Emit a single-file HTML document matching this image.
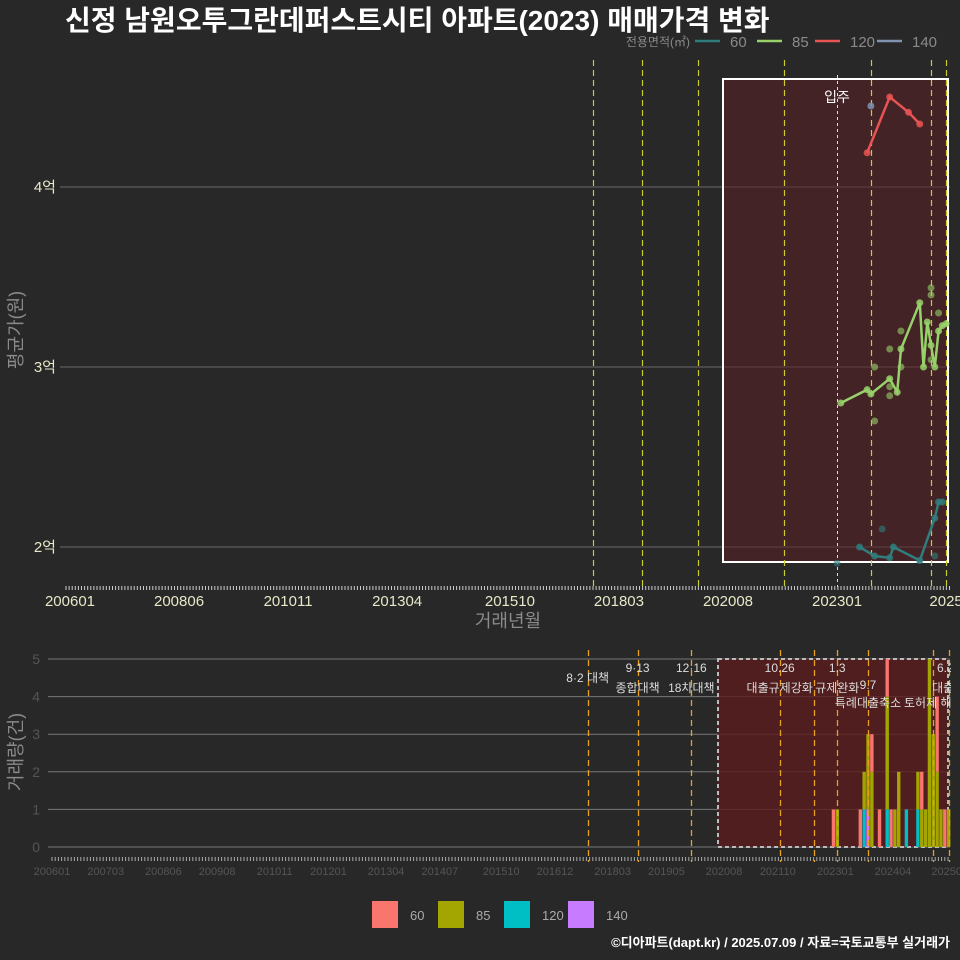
<!DOCTYPE html>
<html><head><meta charset="utf-8"><style>
body{margin:0;background:#282828;}
svg{display:block;font-family:"Liberation Sans","Noto Sans CJK KR",sans-serif;}
</style></head><body>
<svg id="c" width="960" height="960" viewBox="0 0 960 960" xmlns="http://www.w3.org/2000/svg">
<rect width="960" height="960" fill="#282828"/>
<text x="65" y="30" fill="#ffffff" font-size="28" font-weight="bold">신정 남원오투그란데퍼스트시티 아파트(2023) 매매가격 변화</text>
<g id="topPanel"></g>
<g id="botPanel"></g>
<text x="950" y="947" text-anchor="end" fill="#ffffff" font-size="13" font-weight="bold">©디아파트(dapt.kr) / 2025.07.09 / 자료=국토교통부 실거래가</text>
</svg>
<script>
// ---- data ----
const priceTicks=[2,3,4];
const priceTickLabels=["2억","3억","4억"];
const xTickMonthsTop=[0,29,58,87,117,146,175,204,233];
const xTickLabelsTop=["200601","200806","201011","201304","201510","201803","202008","202301","2025"];
const xTickMonthsBot=[0,14,29,43,58,72,87,101,117,131,146,160,175,189,204,219,233];
const xTickLabelsBot=["200601","200703","200806","200908","201011","201201","201304","201407","201510","201612","201803","201905","202008","202110","202301","202404","20250"];
const areaLabels=["60","85","120","140"];
const lineColors=["#2f7d7d","#97d16a","#e85454","#7f93b0"];
const barColors=["#f8766d","#a3a500","#00bfc4","#c77cff"];
const m60=[210,214,218,219,226,230,231,232];
const v60=[2.0,1.95,1.94,2.0,1.925,2.16,2.25,2.25];
const s60m=[216,230,204];
const s60v=[2.10,1.95,1.91];
const m85=[205,212,213,218,220,221,226,227,228,229,230,231,232,233];
const v85=[2.80,2.874,2.85,2.935,2.86,3.10,3.357,3.0,3.25,3.12,3.0,3.20,3.23,3.24];
const s85m=[214,214,218,218,218,221,221,229,229,229,231];
const s85v=[3.0,2.70,3.10,2.89,2.84,3.20,3.0,3.44,3.40,3.04,3.30];
const m120=[212,218,223,226];
const v120=[4.19,4.50,4.415,4.35];
const m140=[213];
const v140=[4.45];
const eventMonthsTop=[139,152,167,190,213,229,233];
const moveInMonth=204;
const barMonths=[203,204,210,211,212,213,215,217,218,219,220,222,225,226,227,228,229,230,231,232,233];
const cnt60=[1,0,1,0,0,1,1,1,1,0,0,0,0,1,0,0,0,2,0,1,0];
const cnt85=[0,1,0,1,2,2,0,3,0,1,2,0,1,1,1,5,3,2,1,0,1];
const cnt120=[0,0,0,1,0,0,0,1,0,0,0,1,1,0,0,0,0,0,0,0,0];
const cnt140=[0,0,0,0,1,0,0,0,0,0,0,0,0,0,0,0,0,0,0,0,0];
const volTicks=[0,1,2,3,4,5];
const eventMonthsBot=[139,152,166,189,198,204,212,229,233];
const eventTop=["8·2 대책","9·13","12·16","10.26","1.3","9.7","6.27"];
const eventBottom=["","종합대책","18차대책","대출규제강화","규제완화","특례대출축소","대출규"];
const eventLabelMonths=[139,152,166,189,204,212,233];
// ---- scales ----
const NS="http://www.w3.org/2000/svg";
const xT=m=>70+m*3.76, yT=v=>187+(4-v)*180;
const xB=m=>52+(m+0.5)*3.84, yB=v=>847-v*37.6;
const px=x=>Math.round(x)+0.5;
function mk(p,t,a){const e=document.createElementNS(NS,t);for(const k in a)e.setAttribute(k,a[k]);p.appendChild(e);return e;}
const topG=document.getElementById('topPanel'), botG=document.getElementById('botPanel');
// top panel
priceTicks.forEach((v,i)=>{
 const g=mk(topG,'line',{x1:60,x2:950,y1:yT(v),y2:yT(v),stroke:'#6a6a6a','stroke-width':1});
 
 
 const t=mk(topG,'text',{x:56,y:yT(v)+5,'text-anchor':'end',fill:'#e8e8c8','font-size':15});
 t.textContent=priceTickLabels[i];
 
 
});
const box=mk(topG,'rect',{x:723,y:79,width:225,height:483,fill:'#5a1f22','fill-opacity':0.55,stroke:'#ffffff','stroke-width':2});


eventMonthsTop.forEach(m=>{
 const l=mk(topG,'line',{x1:px(xT(m)),x2:px(xT(m)),y1:60,y2:587,stroke:'#c8cc30','stroke-width':1.2,'stroke-dasharray':'6,4'});
 
 
});
const mi=mk(topG,'line',{x1:px(xT(moveInMonth)),x2:px(xT(moveInMonth)),y1:75,y2:587,stroke:'#dddddd','stroke-width':1,'stroke-dasharray':'3,3'});


const mit=mk(topG,'text',{x:xT(moveInMonth),y:102,'text-anchor':'middle',fill:'#ffffff','font-size':14});
mit.textContent='입주';


let tk='';for(let x=66;x<=950;x+=3.1)tk+=`M${x.toFixed(1)} 586V590`;
const tt=mk(topG,'path',{d:tk,stroke:'#cccccc','stroke-width':1});


xTickMonthsTop.forEach((m,i)=>{
 const t=mk(topG,'text',{x:xT(m),y:606,'text-anchor':'middle',fill:'#e8e8c8','font-size':15});
 t.textContent=xTickLabelsTop[i];
 
 
});
const xtl=mk(topG,'text',{x:508,y:627,'text-anchor':'middle',fill:'#8a8a8a','font-size':18});
xtl.textContent='거래년월';


const ytl=mk(topG,'text',{x:0,y:0,'text-anchor':'middle',fill:'#8a8a8a','font-size':18,transform:'translate(22,330) rotate(-90)'});
ytl.textContent='평균가(원)';


function series(ms,vs,sm,sv,col,name){
 const pts=ms.map((m,i)=>xT(m).toFixed(1)+','+yT(vs[i]).toFixed(1)).join(' ');
 if(ms.length>1){const p=mk(topG,'polyline',{points:pts,fill:'none',stroke:col,'stroke-width':2.5});
 
 }
 ms.forEach((m,i)=>{const c=mk(topG,'circle',{cx:xT(m),cy:yT(vs[i]),r:3.5,fill:col,'fill-opacity':0.85});
 
 });
 sm.forEach((m,i)=>{const c=mk(topG,'circle',{cx:xT(m),cy:yT(sv[i]),r:3.5,fill:col,'fill-opacity':0.6});
 
 });
}
series(m60,v60,s60m,s60v,lineColors[0],'60');
series(m85,v85,s85m,s85v,lineColors[1],'85');
series(m120,v120,[],[],lineColors[2],'120');
series(m140,v140,[],[],lineColors[3],'140');
const lgt=mk(topG,'text',{x:690,y:46,'text-anchor':'end',fill:'#8a8a8a','font-size':12});
lgt.textContent='전용면적(㎡)';


areaLabels.forEach((a,i)=>{
 const x0=[695,757,815,877][i];
 const l=mk(topG,'line',{x1:x0,x2:x0+25,y1:41,y2:41,stroke:lineColors[i],'stroke-width':2.5});
 
 
 const t=mk(topG,'text',{x:x0+35,y:47,fill:'#8a8a8a','font-size':15});
 t.textContent=a;
 
 
});
// bottom panel
volTicks.forEach(v=>{
 const g=mk(botG,'line',{x1:48,x2:950,y1:yB(v),y2:yB(v),stroke:'#777','stroke-width':1});
 
 
 const t=mk(botG,'text',{x:40,y:yB(v)+5,'text-anchor':'end',fill:'#555','font-size':14});
 t.textContent=v;
 
 
});
const bb=mk(botG,'rect',{x:718,y:659,width:230,height:188,fill:'#5a1b1b','fill-opacity':0.8,stroke:'#bbbbbb','stroke-width':2,'stroke-dasharray':'4,3'});


const cnts=[cnt60,cnt85,cnt120,cnt140];
barMonths.forEach((m,i)=>{
 let base=0;
 for(let s=3;s>=0;s--){const c=cnts[s][i];if(!c)continue;
  const r=mk(botG,'rect',{x:xB(m)-1.7,y:yB(base+c),width:3.4,height:yB(base)-yB(base+c),fill:barColors[s]});
  
  
  base+=c;}
});
eventMonthsBot.forEach(m=>{
 const l=mk(botG,'line',{x1:px(xB(m)),x2:px(xB(m)),y1:650,y2:862,stroke:'#e8a020','stroke-width':1.3,'stroke-dasharray':'6,4'});
 
 
});
eventLabelMonths.forEach((m,i)=>{
 const y1=i===0?682:(i===5?689:672);
 const t=mk(botG,'text',{x:xB(m),y:y1,'text-anchor':'middle',fill:'#dddddd','font-size':12});
 t.textContent=eventTop[i];
 
 
 if(eventBottom[i]){const t2=mk(botG,'text',{x:xB(m),y:i===5?707:692,'text-anchor':'middle',fill:'#dddddd','font-size':12});
 t2.textContent=eventBottom[i];
 
 }
});
const tx=mk(botG,'text',{x:xB(229),y:707,'text-anchor':'middle',fill:'#dddddd','font-size':12});
tx.textContent='토허제 해제';


const cover=mk(botG,'rect',{x:951,y:640,width:9,height:210,fill:'#282828'});


let tb='';for(let x=52;x<=950;x+=3.2)tb+=`M${x.toFixed(1)} 857V861`;
const bt=mk(botG,'path',{d:tb,stroke:'#aaaaaa','stroke-width':1});


xTickMonthsBot.forEach((m,i)=>{
 const t=mk(botG,'text',{x:52+m*3.84,y:875,'text-anchor':'middle',fill:'#555','font-size':11});
 t.textContent=xTickLabelsBot[i];
 
 
});
const vyt=mk(botG,'text',{x:0,y:0,'text-anchor':'middle',fill:'#8a8a8a','font-size':18,transform:'translate(22,752) rotate(-90)'});
vyt.textContent='거래량(건)';


areaLabels.forEach((a,i)=>{
 const x0=[372,438,504,568][i];
 const r=mk(botG,'rect',{x:x0,y:901,width:26,height:27,fill:barColors[i]});
 
 
 const t=mk(botG,'text',{x:x0+38,y:920,fill:'#aaaaaa','font-size':13});
 t.textContent=a;
 
 
});
</script>
</body></html>
